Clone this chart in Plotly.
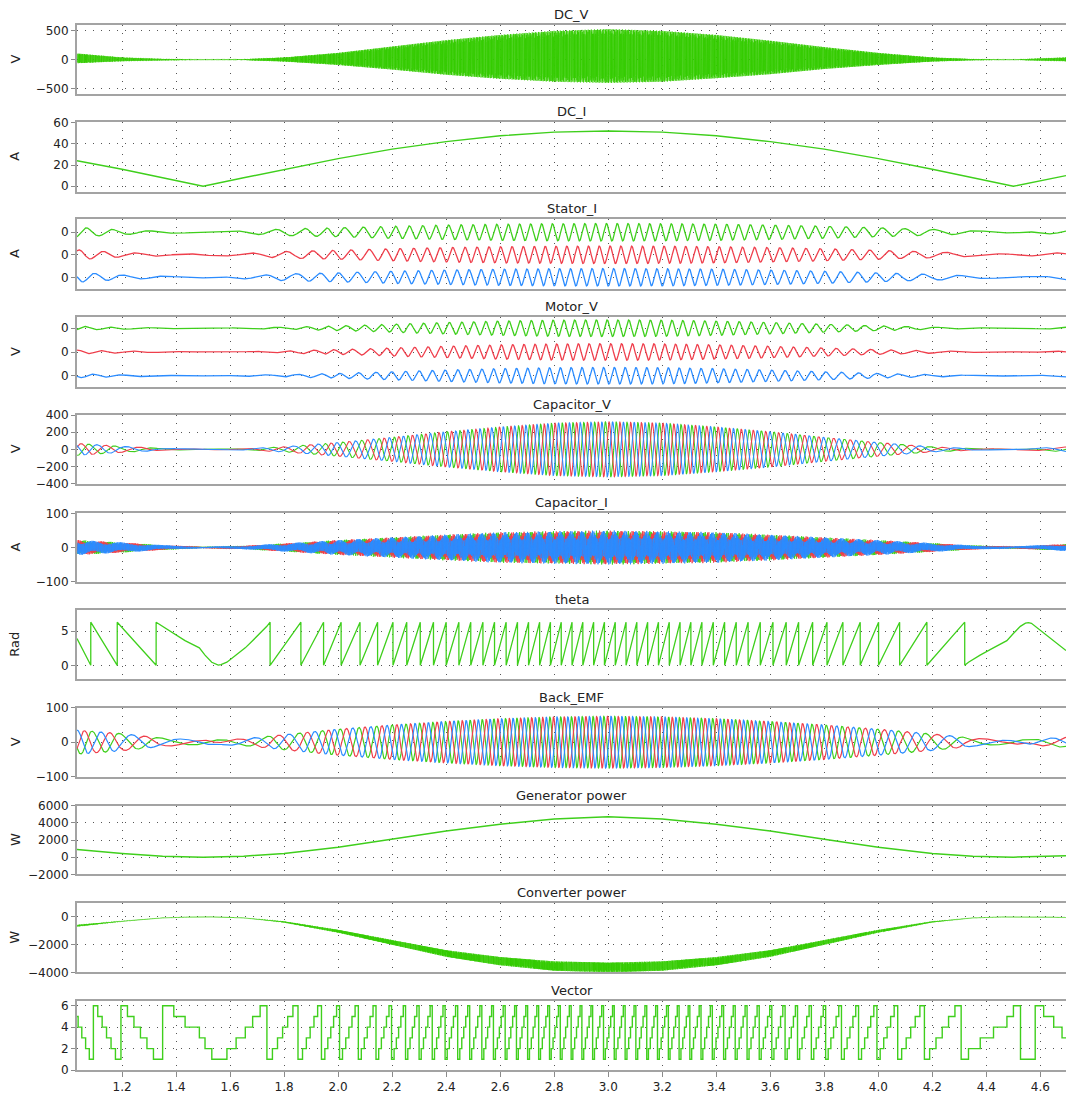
import numpy as np
import plotly.graph_objects as go
from plotly.subplots import make_subplots

# ---------------- data ----------------
X_RANGE = [1.033, 4.695]
X_TICKS = [1.2, 1.4, 1.6, 1.8, 2.0, 2.2, 2.4, 2.6, 2.8, 3.0, 3.2, 3.4, 3.6, 3.8, 4.0, 4.2, 4.4, 4.6]

PANEL_TITLES = ["DC_V", "DC_I", "Stator_I", "Motor_V", "Capacitor_V", "Capacitor_I",
                "theta", "Back_EMF", "Generator power", "Converter power", "Vector"]
PANEL_UNITS = ["V", "A", "A", "V", "V", "A", "Rad", "V", "W", "W", ""]

# theta: slow region at start (t, rad)
THETA_START_T = [1.033, 1.084, 1.084, 1.182, 1.182, 1.326, 1.326, 1.39, 1.433, 1.486, 1.507,
                 1.532, 1.548, 1.556, 1.566, 1.588, 1.622, 1.656, 1.683, 1.711, 1.736, 1.748]
THETA_START_V = [3.9, 0.0, 6.28, 0.0, 6.28, 0.0, 6.28, 4.66, 3.59, 2.54, 1.49,
                 0.45, 0.08, 0.02, 0.10, 0.45, 1.49, 2.54, 3.59, 4.64, 5.68, 6.28]
# theta: times where the rising sawtooth wraps from 2*pi to 0
THETA_WRAP_T = [1.748, 1.862, 1.946, 2.011, 2.081, 2.146, 2.203, 2.254, 2.304, 2.353, 2.400,
                2.447, 2.491, 2.536, 2.579, 2.622, 2.664, 2.705, 2.746, 2.786, 2.826, 2.866,
                2.906, 2.946, 2.986, 3.026, 3.066, 3.106, 3.146, 3.186, 3.226, 3.266, 3.306,
                3.347, 3.389, 3.431, 3.474, 3.518, 3.563, 3.610, 3.659, 3.705, 3.757, 3.810,
                3.869, 3.933, 4.001, 4.079, 4.180, 4.320]
# theta: slow region at end
THETA_END_T = [4.320, 4.334, 4.377, 4.426, 4.476, 4.500, 4.526, 4.545, 4.556, 4.567, 4.581,
               4.612, 4.649, 4.680, 4.695]
THETA_END_V = [0.0, 0.45, 1.49, 2.54, 3.59, 4.64, 5.68, 6.15, 6.22, 6.12, 5.68,
               4.64, 3.59, 2.54, 2.15]
VECTOR_ANGLE_OFFSET = 0.6  # rad

# envelope knots (time)
ENV_T = [1.033, 1.2, 1.35, 1.5, 1.65, 1.8, 2.0, 2.2, 2.4, 2.6, 2.8, 3.0, 3.2, 3.4, 3.6, 3.8,
         4.0, 4.2, 4.35, 4.5, 4.695]
DC_V_UPPER = [110, 40, 15, 5, 10, 40, 120, 230, 340, 430, 500, 530, 500, 430, 330, 220,
              120, 40, 12, 5, 40]
DC_V_LOWER = [-60, -25, -10, -3, -5, -30, -90, -170, -260, -330, -380, -400, -380, -320, -250,
              -160, -90, -30, -8, -3, -25]
DC_I_VAL = [24, 16, 8, 0, 8, 16, 26, 35, 42, 47.5, 51, 52, 51, 47.5, 42, 35, 26, 16, 8, 0, 10]
STATOR_I_AMP = [0.22, 0.10, 0.05, 0.03, 0.07, 0.15, 0.20, 0.27, 0.32, 0.36, 0.38, 0.39, 0.38,
                0.36, 0.32, 0.27, 0.20, 0.13, 0.07, 0.03, 0.10]
MOTOR_V_AMP = [0.08, 0.04, 0.02, 0.01, 0.02, 0.05, 0.10, 0.17, 0.24, 0.30, 0.34, 0.35, 0.34,
               0.30, 0.24, 0.17, 0.10, 0.05, 0.02, 0.01, 0.05]
CAP_V_AMP = [70, 35, 12, 3, 10, 30, 80, 140, 205, 260, 305, 320, 305, 260, 205, 140, 80, 30,
             10, 3, 30]
CAP_I_AMP = [22, 15, 7, 2, 5, 12, 22, 30, 38, 45, 48, 50, 48, 45, 38, 30, 22, 13, 6, 3, 10]
BACK_EMF_AMP = [35, 25, 12, 6, 10, 22, 38, 50, 60, 68, 73, 75, 73, 68, 60, 50, 38, 24, 12, 5, 15]
GEN_P = [900, 430, 110, 0, 110, 430, 1150, 2100, 3050, 3850, 4450, 4700, 4450, 3850, 3050,
         2100, 1150, 430, 110, 0, 150]
CONV_P_MID = [-650, -330, -90, 0, -90, -380, -1050, -1850, -2650, -3200, -3550, -3650, -3550,
              -3200, -2650, -1850, -1050, -380, -90, 0, -60]
CONV_P_HALF = [60, 20, 8, 0, 8, 40, 100, 170, 240, 300, 340, 350, 340, 300, 240, 170, 100, 40,
               8, 0, 10]

# ---------------- styling ----------------
GREEN = "#3fcf1c"
BAND_GREEN = "#33cc00"
RED = "#ef3f4c"
BLUE = "#2b8cff"
FONT = "DejaVu Sans"
W, H = 1066, 1094
PANEL_TOP = [25, 122, 219, 317.3, 415, 513.3, 610, 707.7, 805.7, 903.3, 1000.7]
PANEL_BOT = [94, 191.7, 289, 386.7, 483.7, 581.7, 679.3, 776.7, 874.3, 972.3, 1070]
Y_RANGES = [[-590, 600], [-5.1, 60.5], [-1.52, 1.59], [-1.46, 1.46], [-400, 400], [-100, 100],
            [-2.04, 8.06], [-100, 100], [-2000, 6000], [-4000, 960], [0, 6.47]]
Y_TICKS = [[-500, 0, 500], [0, 20, 40, 60], [-1, 0, 1], [-1, 0, 1], [-400, -200, 0, 200, 400],
           [-100, 0, 100], [0, 5], [-100, 0, 100], [-2000, 0, 2000, 4000, 6000],
           [-4000, -2000, 0], [0, 2, 4, 6]]

# ---------------- build series ----------------
N = 7000
T = np.linspace(X_RANGE[0], X_RANGE[1], N)
n_idx = np.arange(N)
eps = 1e-7


def dedup(ts):
    out = []
    for v in ts:
        if out and v <= out[-1]:
            v = out[-1] + eps
        out.append(v)
    return out


th_t = list(THETA_START_T[:-1])
th_v = list(THETA_START_V[:-1])
for a, b in zip(THETA_WRAP_T[:-1], THETA_WRAP_T[1:]):
    th_t += [a, a, b]
    th_v += [2 * np.pi, 0.0, 2 * np.pi]
th_t += [THETA_WRAP_T[-1]]
th_v += [2 * np.pi]
th_t += THETA_END_T
th_v += THETA_END_V
th_t_interp = dedup(th_t)
theta = np.interp(T, th_t_interp, th_v)

vec_ang = np.mod(theta + VECTOR_ANGLE_OFFSET, 2 * np.pi)
vector = np.clip(np.floor(vec_ang / (np.pi / 3)) + 1, 1, 6)


def env(vals):
    return np.interp(T, ENV_T, vals)


phases = [0.0, -2 * np.pi / 3, 2 * np.pi / 3]
alt = np.cos(np.pi * n_idx)  # sample-to-sample switching (PWM ripple)

up, lo = env(DC_V_UPPER), env(DC_V_LOWER)
dc_v = (up + lo) / 2 + (up - lo) / 2 * alt * (0.86 + 0.14 * np.sin(2 * np.pi * 173.7 * T))

conv_p = env(CONV_P_MID) + env(CONV_P_HALF) * alt * (0.8 + 0.2 * np.sin(2 * np.pi * 211.3 * T))

fig = make_subplots(rows=11, cols=1, shared_xaxes=True, vertical_spacing=0.01)


def add(row, y, color, width=1.2, x=None, shape="linear"):
    fig.add_trace(go.Scatter(x=T if x is None else x, y=y, mode="lines",
                             line=dict(color=color, width=width, shape=shape),
                             hoverinfo="skip", showlegend=False), row=row, col=1)


add(1, dc_v, BAND_GREEN, 0.8)
add(2, DC_I_VAL, GREEN, 1.4, x=ENV_T)
offs = [1, 0, -1]
cols3 = [GREEN, RED, BLUE]
a_si = env(STATOR_I_AMP)
a_mv = env(MOTOR_V_AMP)
for k in range(3):
    add(3, offs[k] + a_si * np.sin(theta + phases[k] + 0.4), cols3[k], 1.3)
for k in range(3):
    add(4, offs[k] + a_mv * np.sin(theta + phases[k]), cols3[k], 1.3)
a_cv = env(CAP_V_AMP)
for k in range(3):
    add(5, a_cv * np.sin(theta + phases[k] + 1.0), cols3[k], 1.1)
a_ci = env(CAP_I_AMP)
for k in range(3):
    rip = alt * (0.7 + 0.3 * np.sin(2 * np.pi * (151.3 + 23.9 * k) * T + 1.7 * k))
    add(6, a_ci * (0.25 * np.sin(theta + phases[k]) + 0.75 * rip), cols3[k], 0.9)
add(7, th_v, GREEN, 1.3, x=th_t)
a_be = env(BACK_EMF_AMP)
for k in range(3):
    add(8, a_be * np.sin(theta + phases[k] + 1.9), cols3[k], 1.2)
add(9, GEN_P, GREEN, 1.5, x=ENV_T)
add(10, conv_p, BAND_GREEN, 0.8)
add(11, vector, GREEN, 1.4, shape="hv")

grid = dict(showgrid=True, gridcolor="#555555", griddash="1px,7px", gridwidth=1)
frame = dict(showline=True, linecolor="#a3a3a3", linewidth=2, mirror=True, zeroline=False)
tickfont = dict(family=FONT, size=12, color="#222222")

layout = dict(width=W, height=H, plot_bgcolor="white", paper_bgcolor="white",
              margin=dict(l=77, r=0, t=0, b=0), showlegend=False,
              font=dict(family=FONT, size=12, color="#222222"))
for i in range(11):
    n = "" if i == 0 else str(i + 1)
    d0 = 1 - PANEL_BOT[i] / H
    d1 = 1 - PANEL_TOP[i] / H
    ya = dict(domain=[d0, d1], range=Y_RANGES[i], tickvals=Y_TICKS[i], ticks="outside",
              ticklen=4, tickcolor="#8a8a8a", tickfont=tickfont, automargin=False,
              **grid, **frame)
    if i in (2, 3):
        ya["ticktext"] = ["0", "0", "0"]
    layout["yaxis" + n] = ya
    xa = dict(range=X_RANGE, tickvals=X_TICKS, tickfont=tickfont, automargin=False,
              showticklabels=(i == 10), ticks="outside" if i == 10 else "",
              ticklen=5, tickcolor="#8a8a8a", **grid, **frame)
    xa["ticktext"] = ["%.1f" % v for v in X_TICKS]
    layout["xaxis" + n] = xa
fig.update_layout(**layout)

ann = []
for i in range(11):
    ann.append(dict(xref="paper", yref="paper", x=0.5, y=1 - PANEL_TOP[i] / H,
                    yanchor="bottom", xanchor="center", yshift=1, showarrow=False,
                    text=PANEL_TITLES[i], font=dict(family=FONT, size=13, color="#222222")))
    if PANEL_UNITS[i]:
        yc = 1 - (PANEL_TOP[i] + PANEL_BOT[i]) / 2 / H
        ann.append(dict(xref="paper", yref="paper", x=(15 - 77) / (W - 77), y=yc,
                        xanchor="center", yanchor="middle", showarrow=False, textangle=-90,
                        text=PANEL_UNITS[i], font=dict(family=FONT, size=13, color="#222222")))
fig.update_layout(annotations=ann)

fig.write_html("out.html", config={"displayModeBar": False},
               post_script="document.body.style.margin='0';")
